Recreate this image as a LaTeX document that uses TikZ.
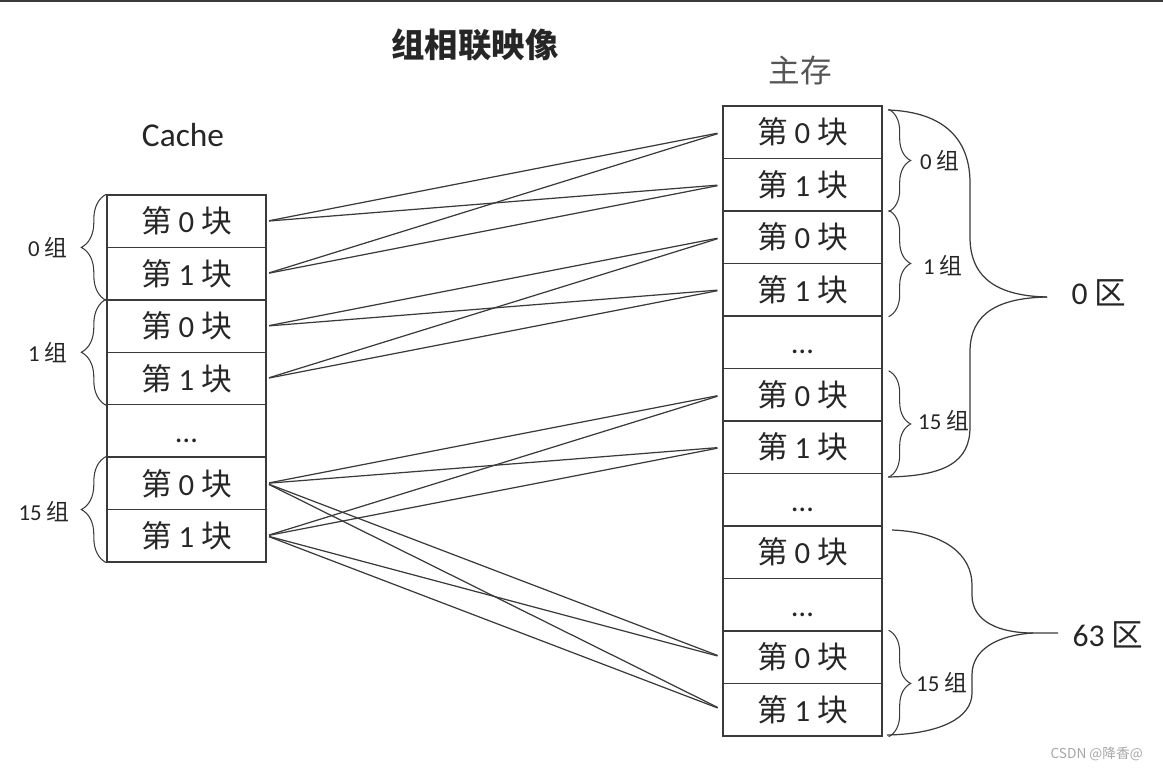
\documentclass[tikz,border=0pt]{standalone}
\usepackage{fontspec}
\setmainfont{Carlito}
\newfontfamily\cjk{Noto Sans CJK SC}
\usetikzlibrary{positioning,decorations.pathreplacing}
\definecolor{linegray}{HTML}{3A3A3A}
\definecolor{textgray}{HTML}{262626}
\definecolor{softgray}{HTML}{555555}
\newcommand\kuai[1]{{\cjk 第}\ #1\ {\cjk 块}}
\newcommand\zu[1]{#1 {\cjk 组}}
\newcommand\qu[1]{#1 {\cjk 区}}
\newcommand\gap{\vphantom{\kuai{0}}\ldots}
\tikzset{
  blk/.style={draw=linegray, line width=0.8pt, minimum width=3.18cm, minimum height=1.049cm,
    inner sep=0pt, text=textgray, font=\fontsize{17.5}{19}\selectfont},
  wire/.style={draw=linegray, line width=0.7pt, shorten <=0.05cm, shorten >=0.1cm},
  setbrace/.style={draw=linegray, line width=0.6pt, decorate, decoration={brace, amplitude=#1}},
  setlabel/.style={text=textgray, font=\fontsize{13}{15}\selectfont},
  bigbrace/.style={draw=linegray, line width=0.7pt},
}
\begin{document}
\begin{tikzpicture}[x=0.02cm, y=-0.02cm]
\useasboundingbox (0,0) rectangle (1163,770);
\draw[linegray, line width=1.1pt] (0,0.8) -- (1163,0.8);

% titles
\node[font=\fontsize{19}{21}\selectfont\cjk\bfseries, text=textgray] (title) at (475,45) {组相联映像};
\node[font=\fontsize{19}{21}\selectfont, text=textgray] (cachetitle) at (183,135) {Cache};
\node[font=\fontsize{18}{20}\selectfont\cjk, text=softgray] (memtitle) at (800,70) {主存};

% cache blocks
\foreach \t [count=\i from 0] in {\kuai{0},\kuai{1},\kuai{0},\kuai{1},\gap,\kuai{0},\kuai{1}}
  \node[blk] (c\i) at (186.5,{221.2+52.43*\i}) {\t};

% main memory blocks
\foreach \t [count=\i from 0] in {\kuai{0},\kuai{1},\kuai{0},\kuai{1},\gap,\kuai{0},\kuai{1},\gap,\kuai{0},\gap,\kuai{0},\kuai{1}}
  \node[blk] (m\i) at (802.5,{132.25+52.5*\i}) {\t};

% mapping lines
\foreach \a/\b in {0/0,0/1,1/0,1/1,2/2,2/3,3/2,3/3,5/5,5/6,6/5,6/6,5/10,5/11,6/10,6/11}
  \draw[wire] (c\a.east) -- (m\b.west);

% set braces, cache side
\draw[setbrace=0.5cm] (c1.south west) -- (c0.north west);
\draw[setbrace=0.5cm] (c3.south west) -- (c2.north west);
\draw[setbrace=0.5cm] (c6.south west) -- (c5.north west);
\node[setlabel, anchor=east] (lz0) at (74,248) {\zu{0}};
\node[setlabel, anchor=east] (lz1) at (74,353) {\zu{1}};
\node[setlabel, anchor=east] (lz15) at (76,512) {\zu{15}};

% set braces, memory side
\draw[setbrace=0.44cm] ([xshift=0.12cm,yshift=-0.08cm]m0.north east) -- ([xshift=0.12cm]m1.south east);
\draw[setbrace=0.44cm] ([xshift=0.12cm]m2.north east) -- ([xshift=0.12cm]m3.south east);
\draw[setbrace=0.44cm] ([xshift=0.12cm,yshift=-0.06cm]m5.north east) -- ([xshift=0.12cm,yshift=-0.06cm]m6.south east);
\draw[setbrace=0.44cm] ([xshift=0.12cm]m10.north east) -- ([xshift=0.12cm]m11.south east);
\node[setlabel, anchor=west] (rz0) at (914,161) {\zu{0}};
\node[setlabel, anchor=west] (rz1) at (917,266) {\zu{1}};
\node[setlabel, anchor=west] (rz15) at (912,421) {\zu{15}};
\node[setlabel, anchor=west] (rz15b) at (910,683) {\zu{15}};

% area braces
\draw[bigbrace] (888,110) .. controls (945,112) and (970,140) .. (970,183) -- (970,237)
  .. controls (970,280) and (1000,296) .. (1047,297);
\draw[bigbrace] (1047,297) .. controls (1000,298) and (970,312) .. (970,352) -- (970,427)
  .. controls (970,462) and (945,476) .. (888,477);
\draw[bigbrace] (892,530) .. controls (945,532) and (972,555) .. (972,585) -- (972,595)
  .. controls (972,622) and (1000,633) .. (1033,633) -- (1058,633);
\draw[bigbrace] (1033,633) .. controls (1000,635) and (972,648) .. (972,675) -- (972,693)
  .. controls (972,718) and (940,734) .. (887,735);
\node[font=\fontsize{18}{20}\selectfont, text=textgray] (q0) at (1099,293) {\qu{0}};
\node[font=\fontsize{18}{20}\selectfont, text=textgray] (q63) at (1108,635) {\qu{63}};

% watermark
\node[font=\fontsize{7.8}{9}\selectfont\cjk, text=gray!70, anchor=east] (mark) at (1149,754) {CSDN @降香@};
\end{tikzpicture}
\end{document}
